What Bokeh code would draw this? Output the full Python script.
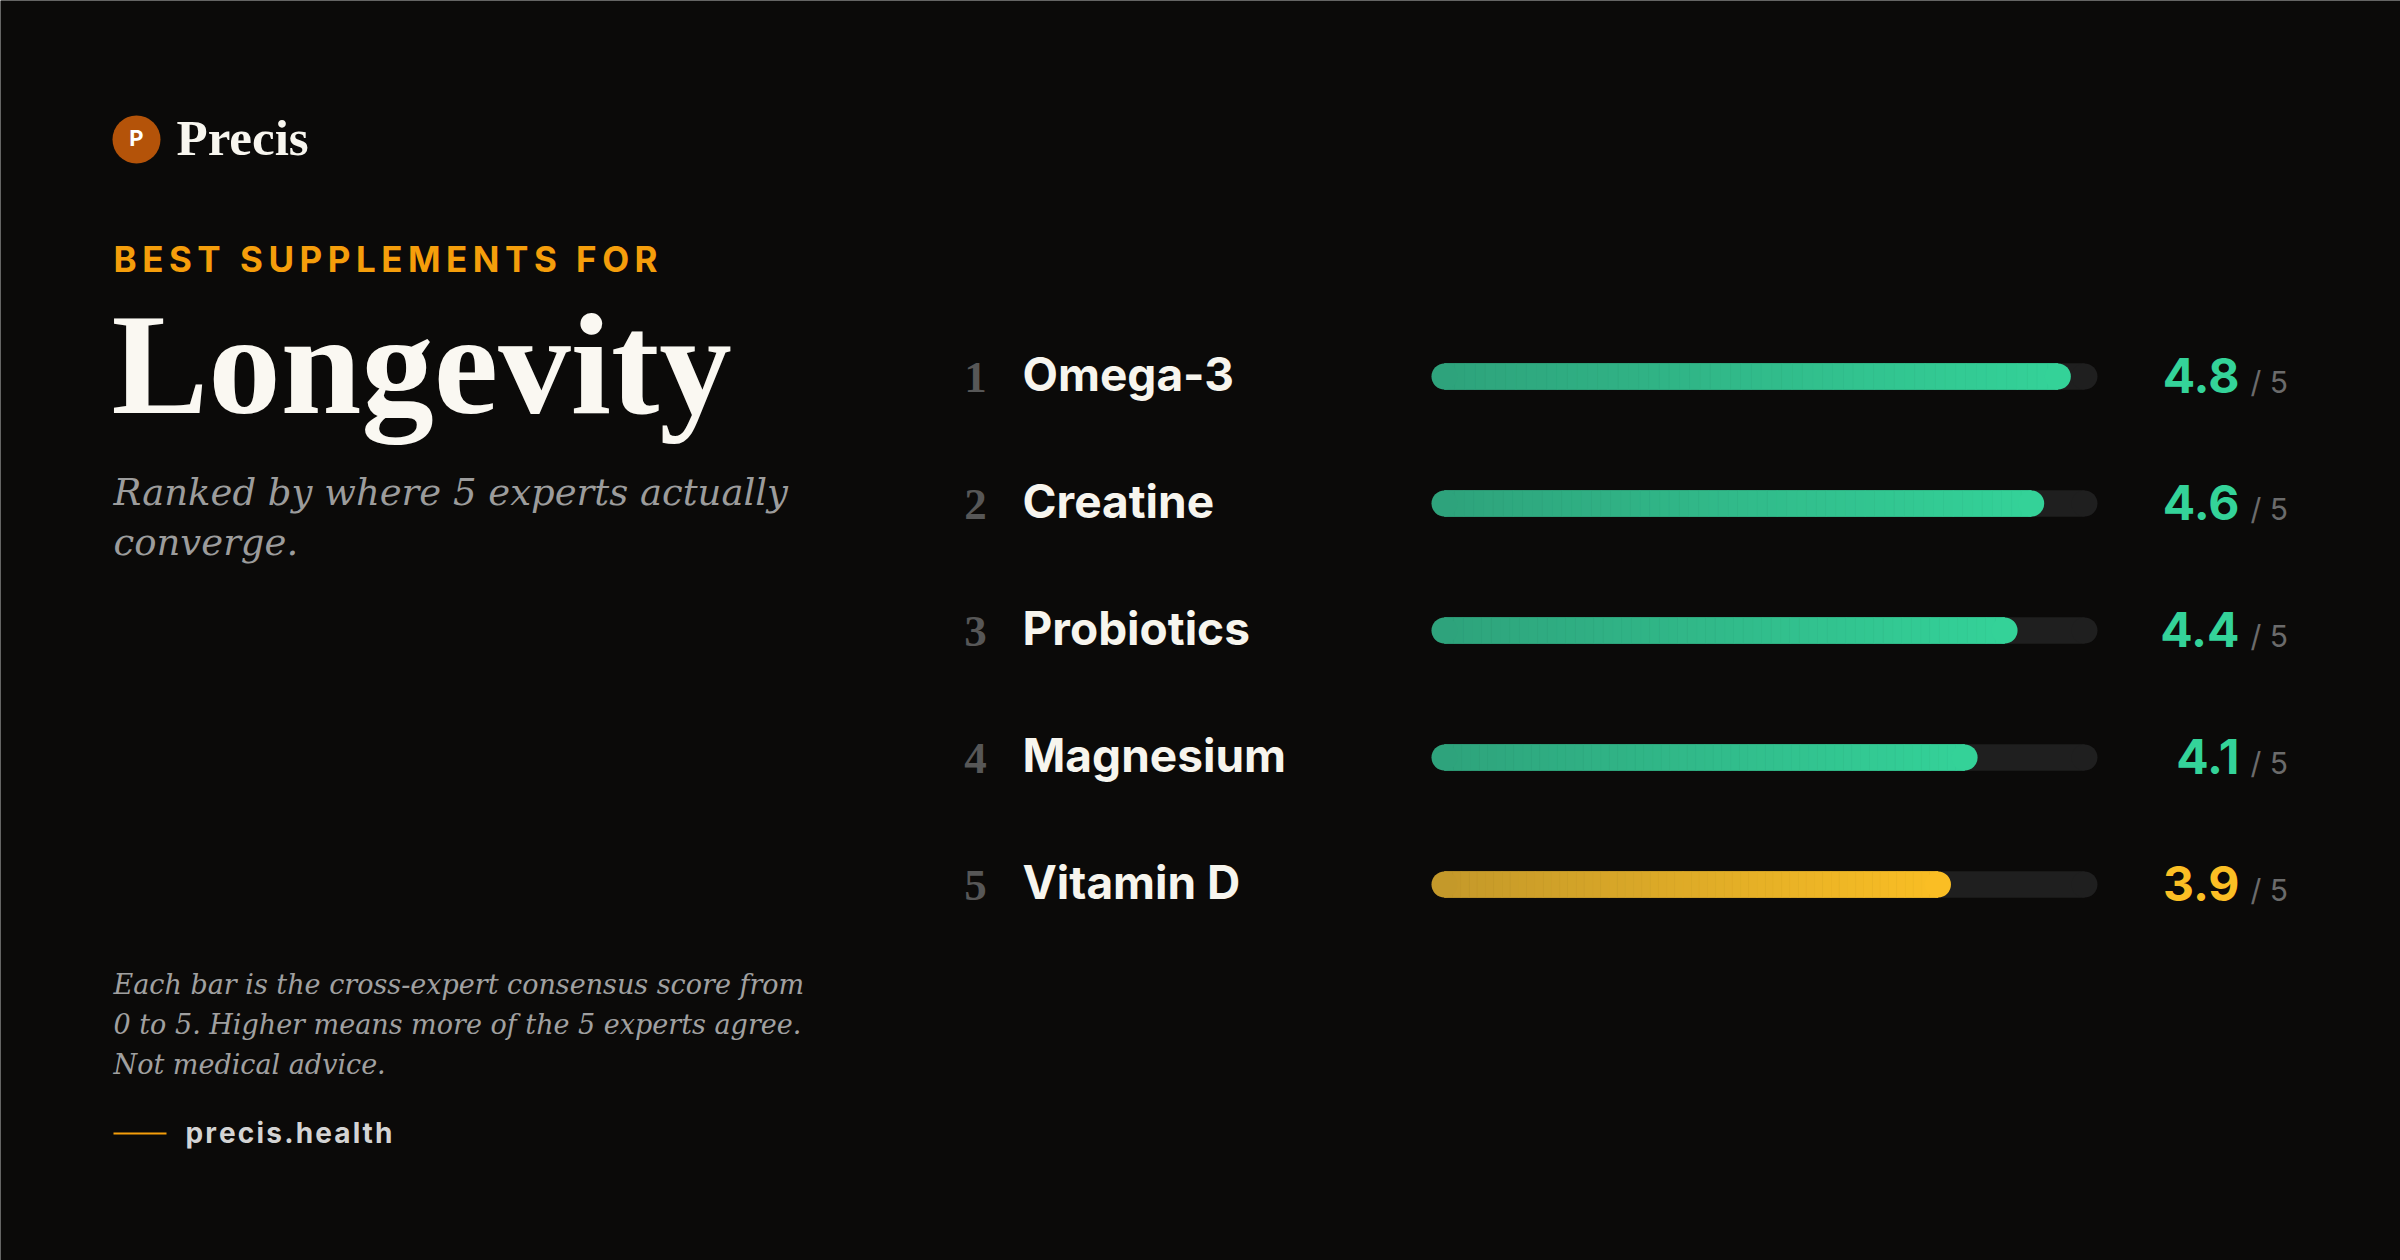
import numpy as np
from bokeh.plotting import figure
from bokeh.models import Range1d, Label, ColumnDataSource, BoxAnnotation
from bokeh.embed import file_html
from bokeh.resources import INLINE
from bokeh.core.properties import value

# ---------------- data ----------------
ranks = [1, 2, 3, 4, 5]
names = ["Omega-3", "Creatine", "Probiotics", "Magnesium", "Vitamin D"]
scores = [4.8, 4.6, 4.4, 4.1, 3.9]
score_labels = ["4.8", "4.6", "4.4", "4.1", "3.9"]
tiers = ["high", "high", "high", "high", "mid"]
max_score = 5
kicker = "BEST SUPPLEMENTS FOR"
title = "Longevity"
subtitle_lines = ["Ranked by where 5 experts actually", "converge."]
footer_lines = ["Each bar is the cross-expert consensus score from",
                "0 to 5. Higher means more of the 5 experts agree.",
                "Not medical advice."]
brand = "Precis"
site = "precis.health"

# ---------------- style / layout ----------------
W, H = 2400, 1260
BG = "#0b0a09"
TRACK_COLOR = "#1f1f1f"
GRAD = {"high": ("#2ea27b", "#34d399"), "mid": ("#c3982a", "#fbbf24")}
SCORE_COLOR = {"high": "#34d399", "mid": "#fbbf24"}
TRACK_X0, TRACK_X1 = 1431, 2097
ROW1_Y, ROW_GAP = 376, 127
BAR_H = 26
N_SLICES = 60
BASE_K = 0.34  # baseline correction (fraction of font size)

ux = (TRACK_X1 - TRACK_X0) / max_score


def X(px):
    return (px - TRACK_X0) / ux


def Y(py):
    return 1 + (py - ROW1_Y) / ROW_GAP


p = figure(width=W, height=H,
           x_range=Range1d(X(0), X(W)), y_range=Range1d(Y(H), Y(0)),
           output_backend="svg", toolbar_location=None,
           x_axis_location=None, y_axis_location=None,
           min_border=0, background_fill_color=BG, border_fill_color=BG,
           outline_line_color=None)
p.grid.visible = False
p.add_layout(BoxAnnotation(fill_color=BG, fill_alpha=1.0, line_color=None, level="underlay"))


def hex2rgb(h):
    h = h.lstrip("#")
    return np.array([int(h[i:i + 2], 16) for i in (0, 2, 4)], dtype=float)


def lerp(c0, c1, t):
    a, b = hex2rgb(c0), hex2rgb(c1)
    c = a + (b - a) * t
    return "#%02x%02x%02x" % tuple(int(round(v)) for v in c)


r_units = (BAR_H / 2) / ux
half_h = (BAR_H / 2) / ROW_GAP

# tracks
p.quad(left=[r_units] * len(ranks), right=[max_score - r_units] * len(ranks),
       top=[r - half_h for r in ranks], bottom=[r + half_h for r in ranks],
       fill_color=TRACK_COLOR, line_color=TRACK_COLOR, line_width=0.5)
p.scatter(x=[r_units] * len(ranks) + [max_score - r_units] * len(ranks),
          y=ranks + ranks, size=BAR_H, marker="circle",
          fill_color=TRACK_COLOR, line_color=None)

# gradient fills
q = dict(left=[], right=[], top=[], bottom=[], color=[])
caps = dict(x=[], y=[], color=[])
for rk, s, tier in zip(ranks, scores, tiers):
    c0, c1 = GRAD[tier]
    edges = np.linspace(r_units, s - r_units, N_SLICES + 1)
    for a, b in zip(edges[:-1], edges[1:]):
        q["left"].append(a)
        q["right"].append(b)
        q["top"].append(rk - half_h)
        q["bottom"].append(rk + half_h)
        q["color"].append(lerp(c0, c1, ((a + b) / 2) / s))
    caps["x"] += [r_units, s - r_units]
    caps["y"] += [rk, rk]
    caps["color"] += [lerp(c0, c1, r_units / s), lerp(c0, c1, (s - r_units) / s)]
p.quad(left="left", right="right", top="top", bottom="bottom",
       fill_color="color", line_color="color", line_width=0.8,
       source=ColumnDataSource(q))
p.scatter(x="x", y="y", size=BAR_H, marker="circle", fill_color="color",
          line_color=None, source=ColumnDataSource(caps))


def row_y(baseline_px_below_center, size):
    return [r + (baseline_px_below_center - BASE_K * size) / ROW_GAP for r in ranks]


# row texts
p.text(x=[X(975)] * len(ranks), y=row_y(16, 45),
       text=[str(r) for r in ranks], text_font=value("Liberation Serif"),
       text_font_style="bold", text_font_size="45px", text_color="#575757",
       text_align="center", text_baseline="alphabetic")
p.text(x=[X(1022)] * len(ranks), y=row_y(13, 46), text=names,
       text_font=value("Inter"), text_font_style="bold", text_font_size="46px",
       text_color="#f7f5ee", text_align="left", text_baseline="alphabetic")
p.text(x=[max_score] * len(ranks), y=row_y(15, 48),
       text=score_labels, x_offset=142,
       text_font=value("Inter"), text_font_style="bold", text_font_size="48px",
       text_color=[SCORE_COLOR[t] for t in tiers],
       text_align="right", text_baseline="alphabetic")
p.text(x=[max_score] * len(ranks), y=row_y(16, 30),
       text=["/ %d" % max_score] * len(ranks), x_offset=153,
       text_font=value("Inter"), text_font_style="normal", text_font_size="30px",
       text_color="#6b6b6b", text_align="left", text_baseline="alphabetic")

# ---------------- left panel ----------------
p.scatter(x=[X(136)], y=[Y(139)], size=48, marker="circle",
          fill_color="#b45309", line_color=None)


def lab(text, xpx, ypx, size, font, style, color, align="left", baseline="alphabetic"):
    if baseline == "alphabetic":
        ypx = ypx - BASE_K * size
    p.add_layout(Label(x=xpx, y=H - ypx, x_units="screen", y_units="screen",
                       text=text, text_font=font, text_font_style=style,
                       text_font_size="%dpx" % size, text_color=color,
                       text_align=align, text_baseline=baseline))


def spaced(s, sp):
    return sp.join(s)


lab("P", 136, 137, 22, "Inter", "bold", "#ffffff", align="center", baseline="middle")
lab(brand, 176, 155, 51, "Liberation Serif", "bold", "#f8f6ef")
lab(spaced(kicker, "\u2009"), 113, 270, 35, "Inter", "bold", "#f59e0b")
lab(title, 111, 413, 145, "Liberation Serif", "bold", "#faf8f2")
for i, line in enumerate(subtitle_lines):
    lab(line, 113, 505 + 50 * i, 37, "DejaVu Serif", "italic", "#9c9c9c")
for i, line in enumerate(footer_lines):
    lab(line, 113, 993 + 40 * i, 27, "DejaVu Serif", "italic", "#a0a0a0")
p.segment(x0=[X(113)], y0=[Y(1133)], x1=[X(166)], y1=[Y(1133)],
          line_color="#f59e0b", line_width=2)
lab(spaced(site, "\u200a"), 185, 1142, 28, "Inter", "bold", "#d4d4d4")

open("out.html", "w").write(file_html(p, INLINE))
